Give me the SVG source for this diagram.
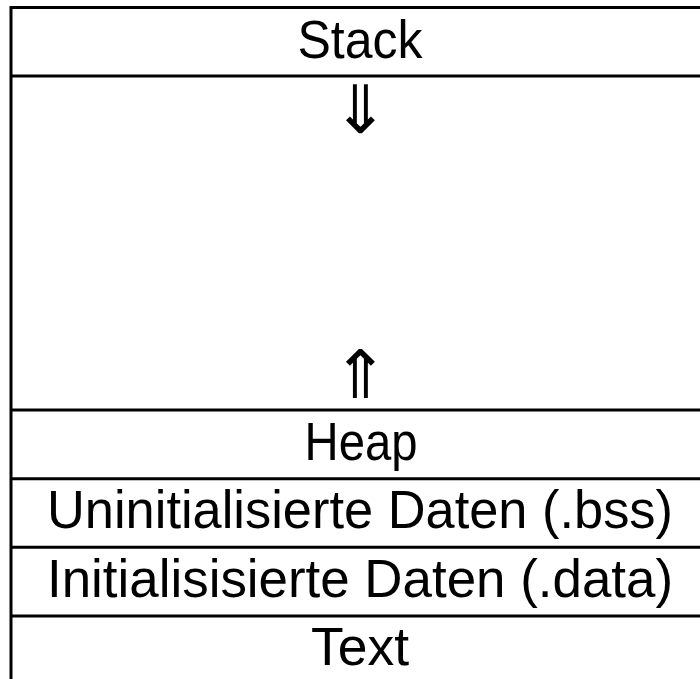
<svg xmlns="http://www.w3.org/2000/svg" width="700" height="679" viewBox="0 0 700 679">
<style>
.rule{stroke:#000;stroke-width:3;fill:none}
.lbl{font-family:"Liberation Sans",Arial,sans-serif;font-size:53px;fill:#000;text-anchor:middle}
.arr{font-family:"DejaVu Sans",sans-serif;font-size:67px;fill:#000;text-anchor:middle}
</style>
<rect width="700" height="679" fill="#fff"/>
<g id="connectors">
<line class="rule" x1="11" y1="6" x2="11" y2="679"/>
<line class="rule" x1="10" y1="7.5" x2="700" y2="7.5"/>
<line class="rule" x1="10" y1="76" x2="700" y2="76"/>
<line class="rule" x1="10" y1="410" x2="700" y2="410"/>
<line class="rule" x1="10" y1="478.7" x2="700" y2="478.7"/>
<line class="rule" x1="10" y1="547.2" x2="700" y2="547.2"/>
<line class="rule" x1="10" y1="616" x2="700" y2="616"/>
</g>
<g id="stack"><text class="lbl" x="360" y="57.5" textLength="125" lengthAdjust="spacingAndGlyphs">Stack</text></g>
<g id="free"><text class="arr" x="360" y="133">⇓</text><text class="arr" x="360" y="398">⇑</text></g>
<g id="heap"><text class="lbl" x="361" y="459.5" textLength="113" lengthAdjust="spacingAndGlyphs">Heap</text></g>
<g id="bss"><text class="lbl" x="360" y="528" textLength="626" lengthAdjust="spacingAndGlyphs">Uninitialisierte Daten (.bss)</text></g>
<g id="data"><text class="lbl" x="360" y="596.5" textLength="626" lengthAdjust="spacingAndGlyphs">Initialisisierte Daten (.data)</text></g>
<g id="text"><text class="lbl" x="360" y="664.5" textLength="98" lengthAdjust="spacingAndGlyphs">Text</text></g>
</svg>
